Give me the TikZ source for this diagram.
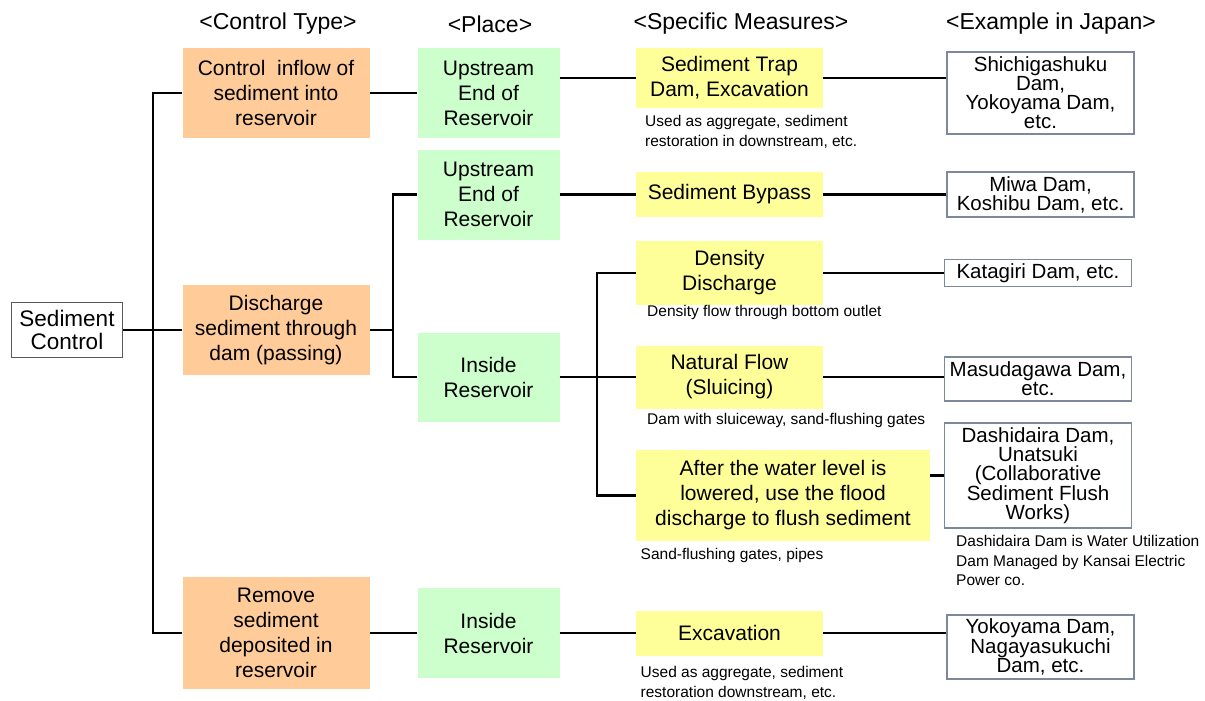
\documentclass[tikz,border=0pt]{standalone}
\usepackage{fontspec}
\setmainfont{Liberation Sans}
\definecolor{orangefill}{RGB}{255,204,153}
\definecolor{greenfill}{RGB}{204,255,204}
\definecolor{yellowfill}{RGB}{255,255,153}
\definecolor{exborder}{RGB}{125,136,155}
\definecolor{rootborder}{RGB}{90,90,90}
\begin{document}
\begin{tikzpicture}[x=1pt,y=-1pt,
  box/.style={inner sep=0pt, align=center, font=\fontsize{21}{25}\selectfont},
  ctype/.style={box, fill=orangefill, minimum width=187pt},
  place/.style={box, fill=greenfill, minimum width=142pt},
  measure/.style={box, fill=yellowfill},
  example/.style={inner sep=0pt, align=center, draw=exborder, line width=1.3pt, fill=white,
    font=\fontsize{20.5}{19}\selectfont},
  note/.style={inner sep=0pt, align=left, anchor=north west, font=\fontsize{15.5}{19.5}\selectfont},
  header/.style={inner sep=0pt, font=\fontsize{23}{27}\selectfont},
  link/.style={line width=2.8pt, black}]

% canvas
\useasboundingbox (0,0) rectangle (1205,701);
\fill[white] (0,0) rectangle (1205,701);

% column headers
\node[header] (h1) at (278,24) {<Control Type>};
\node[header] (h2) at (490,24) {<Place>};
\node[header] (h3) at (741,24) {<Specific Measures>};
\node[header] (h4) at (1051,24) {<Example in Japan>};

% root
\node[inner sep=0pt, align=center, draw=rootborder, line width=1pt, fill=white,
      minimum width=111.5pt, minimum height=55pt, font=\fontsize{22.5}{23.5}\selectfont]
      (SC) at (67,330) {Sediment\\Control};

% control types
\node[ctype, minimum height=90pt]  (O1) at (276,93)  {Control\ \ inflow of\\sediment into\\reservoir};
\node[ctype, minimum height=90pt]  (O2) at (276,330) {Discharge\\sediment through\\dam (passing)};
\node[ctype, minimum height=112pt] (O3) at (276,633) {Remove\\sediment\\deposited in\\reservoir};

% places
\node[place, minimum height=90pt] (G1) at (488.5,93)    {Upstream\\End of\\Reservoir};
\node[place, minimum height=90pt] (G2) at (488.5,194.5) {Upstream\\End of\\Reservoir};
\node[place, minimum height=89pt] (G3) at (488.5,377)   {Inside\\Reservoir};
\node[place, minimum height=90pt] (G4) at (488.5,633)   {Inside\\Reservoir};

% specific measures
\node[measure, minimum width=187pt, minimum height=60pt] (Y1) at (729.5,78)    {Sediment Trap\\Dam, Excavation};
\node[measure, minimum width=187pt, minimum height=45pt] (Y2) at (729.5,194.5) {Sediment Bypass};
\node[measure, minimum width=187pt, minimum height=64pt] (Y3) at (729.5,273)   {Density\\Discharge};
\node[measure, minimum width=187pt, minimum height=63pt] (Y4) at (729.5,377)   {Natural Flow\\(Sluicing)};
\node[measure, minimum width=294pt, minimum height=91pt] (Y5) at (783,495.5)   {After the water level is\\lowered, use the flood\\discharge to flush sediment};
\node[measure, minimum width=187pt, minimum height=45pt] (Y6) at (729.5,633)   {Excavation};

% examples
\node[example, minimum width=187pt, minimum height=82pt]  (E1) at (1040.5,93)  {Shichigashuku\\Dam,\\Yokoyama Dam,\\etc.};
\node[example, minimum width=187pt, minimum height=45pt]  (E2) at (1040.5,194.5) {Miwa Dam,\\Koshibu Dam, etc.};
\node[example, minimum width=187pt, minimum height=27pt]  (E3) at (1038,273)   {Katagiri Dam, etc.};
\node[example, minimum width=187pt, minimum height=44pt]  (E4) at (1038,379)   {Masudagawa Dam,\\etc.};
\node[example, minimum width=187pt, minimum height=105pt] (E5) at (1038,475.5) {Dashidaira Dam,\\Unatsuki\\(Collaborative\\Sediment Flush\\Works)};
\node[example, minimum width=187pt, minimum height=64pt]  (E6) at (1040.5,647) {Yokoyama Dam,\\Nagayasukuchi\\Dam, etc.};

% notes
\node[note] (n1) at (645,115.5)  {Used as aggregate, sediment\\restoration in downstream, etc.};
\node[note] (n2) at (647,305.5)  {Density flow through bottom outlet};
\node[note] (n3) at (647,413.5)  {Dam with sluiceway, sand-flushing gates};
\node[note] (n4) at (640.5,548.5) {Sand-flushing gates, pipes};
\node[note] (n5) at (956,535.5)  {Dashidaira Dam is Water Utilization\\Dam Managed by Kansai Electric\\Power co.};
\node[note] (n6) at (640.5,666.5) {Used as aggregate, sediment\\restoration downstream, etc.};

% branch columns
\coordinate (j1) at (153,0);
\coordinate (j2) at (393,0);
\coordinate (j3) at (597,0);

% root to control types
\draw[link] (SC.east) -- (O2.west);
\draw[link] (O1.west) -| (O3.west -| j1) -- (O3.west);

% control types to places
\draw[link] (O1.east) -- (G1.west);
\draw[link] (O2.east) -- (O2.east -| j2);
\draw[link] (G2.west) -| (G3.west -| j2) -- (G3.west);
\draw[link] (O3.east) -- (G4.west);

% places to measures
\draw[link] (G1.east |- Y1.west) -- (Y1.west);
\draw[link] (G2.east) -- (Y2.west);
\draw[link] (G3.east) -- (Y4.west);
\draw[link] (Y3.west) -| (Y5.west -| j3) -- (Y5.west);
\draw[link] (G4.east) -- (Y6.west);

% measures to examples
\draw[link] (Y1.east) -- (Y1.east -| E1.west);
\draw[link] (Y2.east) -- (E2.west);
\draw[link] (Y3.east) -- (Y3.east -| E3.west);
\draw[link] (Y4.east) -- (Y4.east -| E4.west);
\draw[link] (Y5.east |- E5.west) -- (E5.west);
\draw[link] (Y6.east) -- (Y6.east -| E6.west);
\end{tikzpicture}
\end{document}
